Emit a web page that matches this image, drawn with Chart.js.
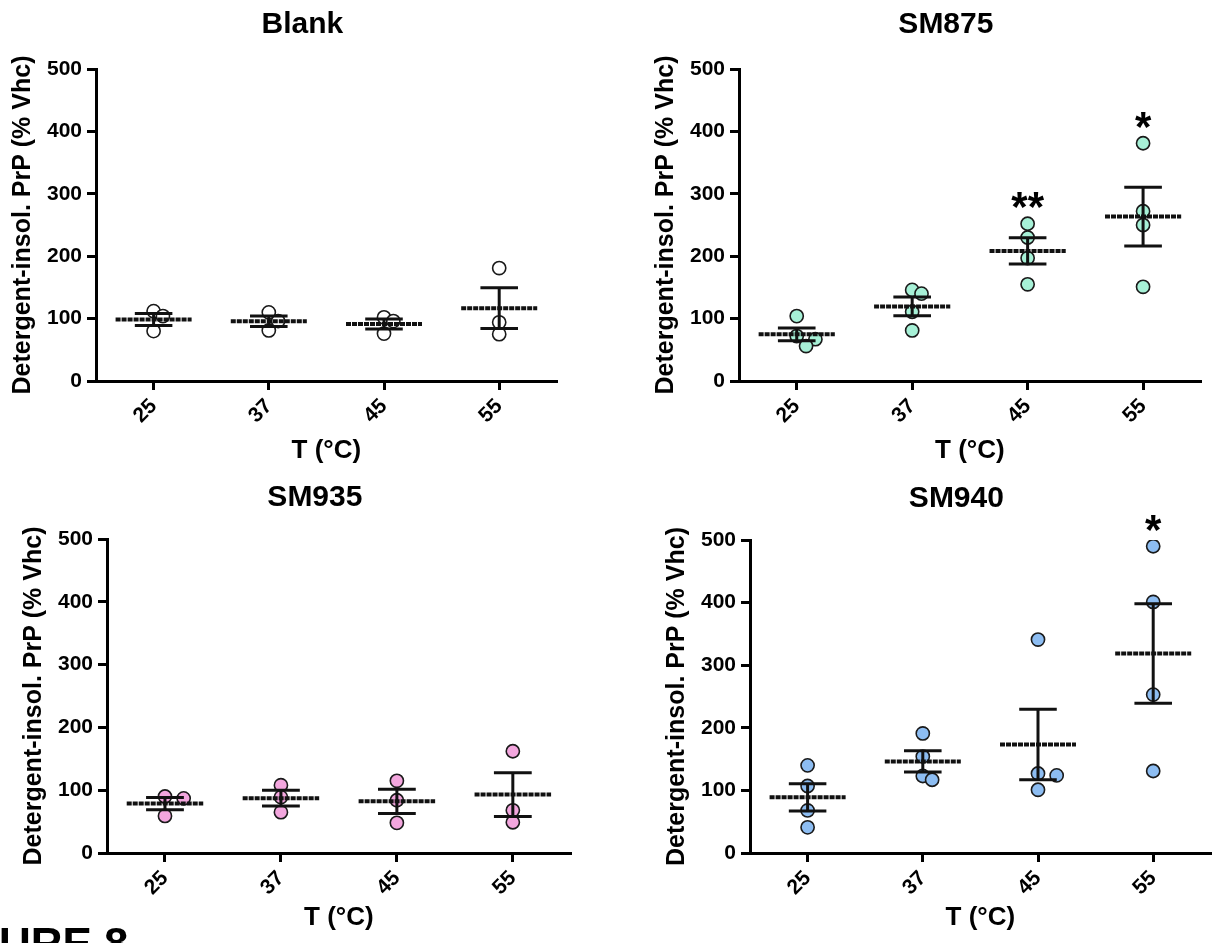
<!DOCTYPE html>
<html>
<head>
<meta charset="utf-8">
<script src="https://cdn.jsdelivr.net/npm/chart.js@4.4.1/dist/chart.umd.min.js"></script>
<style>
  html, body { margin: 0; padding: 0; background: #fff; }
  body { position: relative; width: 1219px; height: 943px; overflow: hidden; }
  canvas { position: absolute; }
  #figLabel { position: absolute; left: -1px; top: 922px; font: bold 44px 'Liberation Sans', Arial, sans-serif; line-height: 44px; white-space: nowrap; color: #000; }
</style>
</head>
<body>
<canvas id="blank"></canvas>
<canvas id="sm875"></canvas>
<canvas id="sm935"></canvas>
<canvas id="sm940"></canvas>
<div id="figLabel">URE 8</div>
<script>
// temperature groups and replicate measurements (% of vehicle)
const temps = ['25', '37', '45', '55'];
const yTicks = [0, 100, 200, 300, 400, 500];
const panelNames = ['Blank', 'SM875', 'SM935', 'SM940'];

const blankValues = [[112, 104, 80], [110, 96, 81], [102, 96, 76], [181, 94, 75]];
const sm875Values = [[104, 72, 67, 56], [146, 140, 111, 81], [252, 230, 197, 155], [381, 272, 250, 151]];
const sm935Values = [[90, 87, 59], [108, 89, 65], [115, 84, 48], [162, 68, 49]];
const sm940Values = [[140, 107, 68, 41], [191, 154, 123, 117], [341, 127, 124, 101], [490, 401, 253, 131]];

// significance marks per temperature
const sm875Marks = ['', '', '**', '*'];
const sm940Marks = ['', '', '', '*'];

const FAMILY = "'Liberation Sans', Arial, Helvetica, sans-serif";
const Y_AREA = 96;      // room left of the y axis
const TITLE_AREA = 69;  // room above the plot
const X_AREA = 90;      // room below the x axis
const MEAN_HALF = 0.33;
const CAP_HALF = 0.163;

const panels = [
  { id: 'blank', name: panelNames[0], values: blankValues, marks: null, fill: '#ffffff', left: 0, top: 0, width: 565, height: 471, rise: 47, drop: 70 },
  { id: 'sm875', name: panelNames[1], values: sm875Values, marks: sm875Marks, fill: '#a7f1d7', left: 643, top: 0, width: 566, height: 471, rise: 47, drop: 70 },
  { id: 'sm935', name: panelNames[2], values: sm935Values, marks: null, fill: '#f3a6de', left: 11, top: 470, width: 568, height: 473, rise: 44, drop: 65 },
  { id: 'sm940', name: panelNames[3], values: sm940Values, marks: sm940Marks, fill: '#8dbdf2', left: 654, top: 471, width: 565, height: 472, rise: 44, drop: 65 }
];

function mean(a) { return a.reduce((s, v) => s + v, 0) / a.length; }
function sem(a) {
  const m = mean(a);
  const ss = a.reduce((s, v) => s + (v - m) * (v - m), 0);
  return Math.sqrt(ss / (a.length - 1)) / Math.sqrt(a.length);
}

// simple column-scatter layout: nudge overlapping dots sideways (pixels)
function spread(vals, pxY) {
  const step = 9.5, minGap = 10;
  const placed = [];
  return vals.map(v => {
    const py = v * pxY;
    const tries = [0, step, -step, 2 * step, -2 * step, 3 * step, -3 * step];
    let dx = 0;
    for (const t of tries) {
      if (placed.every(p => Math.hypot(p.dx - t, p.py - py) >= minGap)) { dx = t; break; }
    }
    placed.push({ dx, py });
    return dx;
  });
}

const tickFont = { family: FAMILY, size: 21, weight: 'bold' };

function buildChart(p) {
  const canvas = document.getElementById(p.id);
  canvas.width = p.width;
  canvas.height = p.height;
  canvas.style.left = p.left + 'px';
  canvas.style.top = p.top + 'px';

  const plotW = p.width - Y_AREA;
  const plotH = p.height - TITLE_AREA - X_AREA;
  const pxX = plotW / temps.length;
  const pxY = plotH / 500;

  const points = [];
  const meanLine = [];
  const semLine = [];
  p.values.forEach((vals, i) => {
    const offs = spread(vals, pxY);
    vals.forEach((v, k) => points.push({ x: i + offs[k] / pxX, y: v }));
    const m = mean(vals), e = sem(vals);
    meanLine.push({ x: i - MEAN_HALF, y: m }, { x: i + MEAN_HALF, y: m }, { x: i, y: null });
    semLine.push(
      { x: i - CAP_HALF, y: m + e }, { x: i + CAP_HALF, y: m + e }, { x: i, y: null },
      { x: i, y: m + e }, { x: i, y: m - e }, { x: i, y: null },
      { x: i - CAP_HALF, y: m - e }, { x: i + CAP_HALF, y: m - e }, { x: i, y: null }
    );
  });

  const panelTitle = {
    id: 'panelTitle',
    afterDraw(chart) {
      const { ctx, chartArea } = chart;
      ctx.save();
      ctx.font = 'bold 30px ' + FAMILY;
      ctx.fillStyle = '#000';
      ctx.textAlign = 'center';
      ctx.textBaseline = 'alphabetic';
      ctx.fillText(p.name, (chartArea.left + chartArea.right) / 2 - 24, chartArea.top - p.rise + 10.7);
      ctx.restore();
    }
  };

  const sigMarks = {
    id: 'sigMarks',
    afterDatasetsDraw(chart) {
      if (!p.marks) return;
      const { ctx, scales } = chart;
      ctx.save();
      ctx.font = 'bold 42px ' + FAMILY;
      ctx.fillStyle = '#000';
      ctx.textAlign = 'center';
      ctx.textBaseline = 'alphabetic';
      p.marks.forEach((mark, i) => {
        if (!mark) return;
        const x = scales.x.getPixelForValue(i);
        const y = scales.y.getPixelForValue(Math.max(...p.values[i])) - 26;
        ctx.fillText(mark, x, y + 0.565 * 42);
      });
      ctx.restore();
    }
  };

  return new Chart(canvas, {
    type: 'scatter',
    data: {
      datasets: [
        { type: 'line', data: semLine, borderColor: '#111', borderWidth: 3, pointRadius: 0, spanGaps: false, order: 0 },
        { type: 'line', data: meanLine, borderColor: '#111', borderWidth: 4, borderDash: [5, 1], pointRadius: 0, spanGaps: false, order: 0 },
        { data: points, backgroundColor: p.fill, borderColor: '#1a1a1a', borderWidth: 1.6, pointRadius: 6.6, order: 1 }
      ]
    },
    options: {
      responsive: false,
      animation: false,
      devicePixelRatio: 1,
      events: [],
      layout: { padding: { top: TITLE_AREA, left: 0, right: 0, bottom: 0 } },
      plugins: { legend: { display: false }, tooltip: { enabled: false } },
      scales: {
        x: {
          type: 'linear',
          min: -0.5,
          max: temps.length - 0.5,
          afterBuildTicks: s => { s.ticks = temps.map((t, i) => ({ value: i })); },
          afterFit: s => { s.height = X_AREA; },
          ticks: { callback: v => temps[v], minRotation: 45, maxRotation: 45, autoSkip: false, font: tickFont, color: '#000', padding: 4 },
          grid: { drawOnChartArea: false, drawTicks: true, tickLength: 9, lineWidth: 3, color: '#000' },
          border: { display: true, width: 3, color: '#000' },
          title: {
            display: true, text: 'T (°C)', color: '#000',
            font: { family: FAMILY, size: 26, weight: 'bold' },
            padding: { top: 0, bottom: X_AREA - p.drop - 15.6 }
          }
        },
        y: {
          min: 0,
          max: 500,
          afterBuildTicks: s => { s.ticks = yTicks.map(v => ({ value: v })); },
          afterFit: s => { s.width = Y_AREA; },
          ticks: { font: tickFont, color: '#000', padding: 5 },
          grid: { drawOnChartArea: false, drawTicks: true, tickLength: 9, lineWidth: 3, color: '#000' },
          border: { display: true, width: 3, color: '#000' },
          title: {
            display: true, text: 'Detergent-insol. PrP (% Vhc)', color: '#000',
            font: { family: FAMILY, size: 25, weight: 'bold' },
            padding: { top: 8.5, bottom: 0 }
          }
        }
      }
    },
    plugins: [panelTitle, sigMarks]
  });
}

panels.forEach(buildChart);
</script>
</body>
</html>
